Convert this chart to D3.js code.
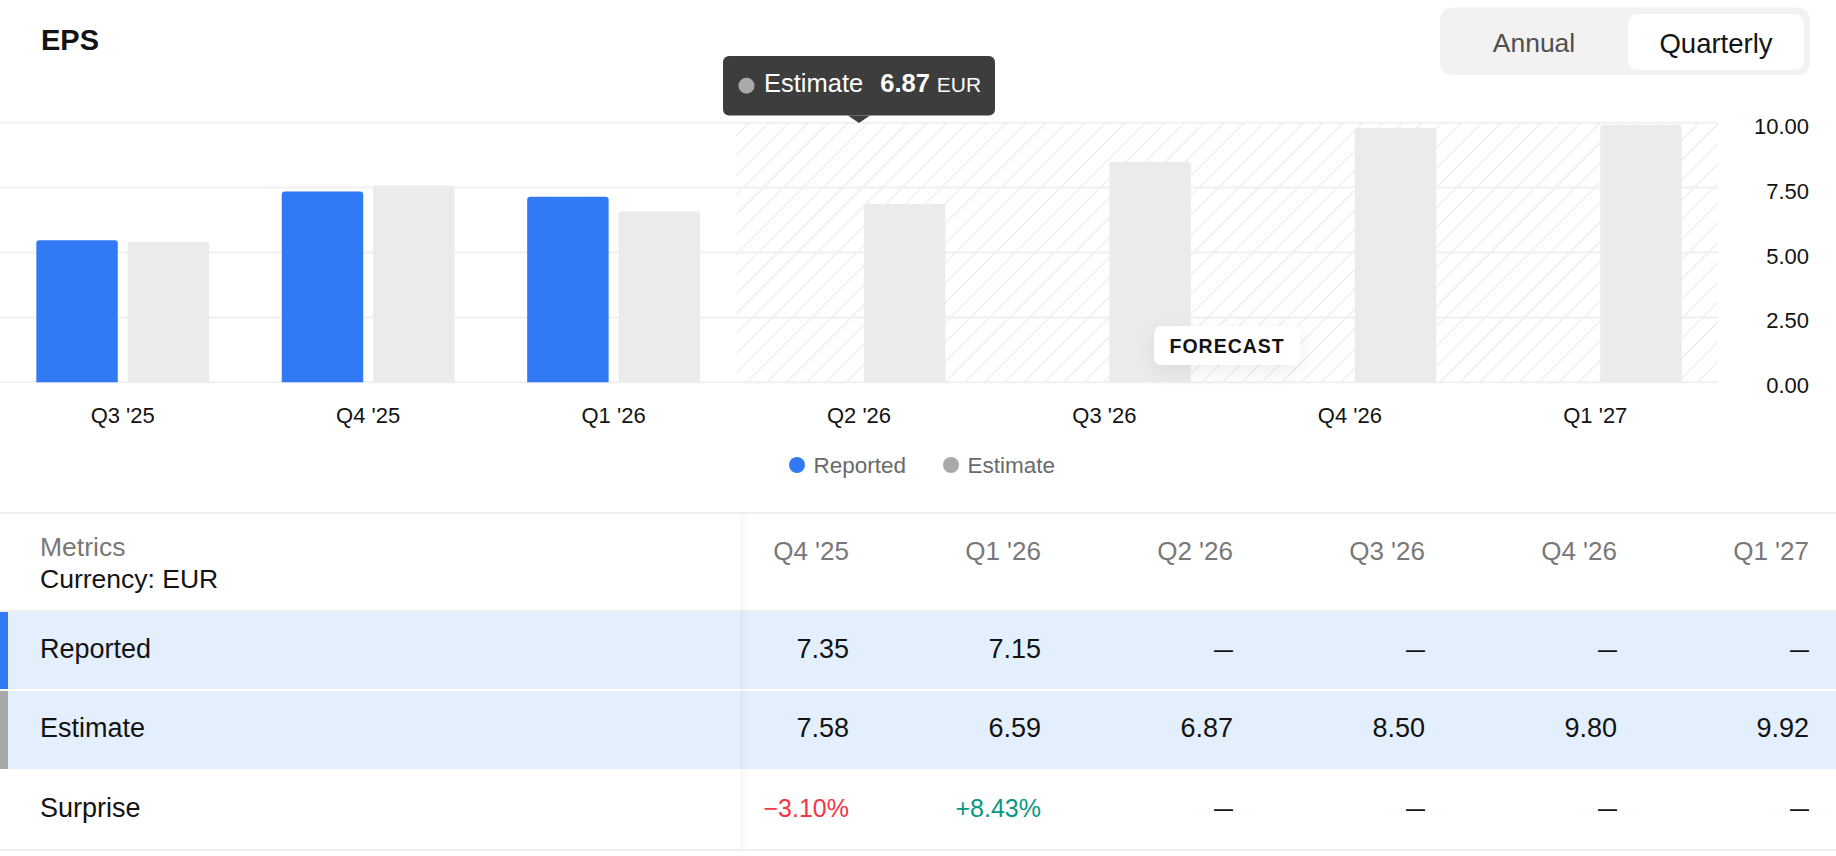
<!DOCTYPE html>
<html>
<head>
<meta charset="utf-8">
<script src="https://cdn.jsdelivr.net/npm/d3@7/dist/d3.min.js"></script>
<style>
html,body{margin:0;padding:0;background:#fff;}
svg{display:block;font-family:"Liberation Sans",Arial,sans-serif;}
</style>
</head>
<body>
<div id="chart"></div>
<script>
// data
var quarters=["Q3 '25","Q4 '25","Q1 '26","Q2 '26","Q3 '26","Q4 '26","Q1 '27"];
var reported=[5.47,7.35,7.15,null,null,null,null];
var estimate=[5.40,7.58,6.59,6.87,8.50,9.80,9.92];
var firstForecast="Q2 '26";
var yTicks=[0,2.5,5,7.5,10];
var tableQuarters=["Q4 '25","Q1 '26","Q2 '26","Q3 '26","Q4 '26","Q1 '27"];
var tableReported=[7.35,7.15,null,null,null,null];
var tableEstimate=[7.58,6.59,6.87,8.50,9.80,9.92];
var tableSurprise=[-3.10,8.43,null,null,null,null];
var seriesNames=["Reported","Estimate"];

var W=1836,H=856;
var BLUE="#3179f5",GREY_BAR="#ebebeb",GRID="#f0f0f0",TXT="#131313";

var svg=d3.select("#chart").append("svg").attr("width",W).attr("height",H);
var defs=svg.append("defs");

// hatch pattern for the forecast zone
var pat=defs.append("pattern").attr("id","hatch")
	.attr("patternUnits","userSpaceOnUse").attr("width",14).attr("height",14)
	.attr("patternTransform","rotate(45)");
pat.append("line").attr("x1",0).attr("y1",0).attr("x2",0).attr("y2",14)
	.attr("stroke","#e8e8e8").attr("stroke-width",2);

var sh=defs.append("filter").attr("id","shadow").attr("x","-40%").attr("y","-60%").attr("width","180%").attr("height","260%");
sh.append("feDropShadow").attr("dx",0).attr("dy",6).attr("stdDeviation",9)
	.attr("flood-color","#000").attr("flood-opacity",0.07);

var grad=defs.append("linearGradient").attr("id","stickyShadow");
grad.append("stop").attr("offset","0").attr("stop-color","#000").attr("stop-opacity",0.035);
grad.append("stop").attr("offset","1").attr("stop-color","#000").attr("stop-opacity",0);

//***************************
//SCALES
//***************************
var x0=d3.scaleBand().domain(quarters).range([0,1718]).paddingInner(0.296).paddingOuter(0.148);
var x1=d3.scaleBand().domain(seriesNames).range([0,x0.bandwidth()]).paddingInner(0.108);
var y=d3.scaleLinear().domain([0,10]).range([382.3,122.7]);
var step=x0.step();
var fx0=x0(firstForecast)-step*x0.paddingInner()/2;
var fx1=x0.range()[1];

//***************************
//TITLE + TOGGLE
//***************************
svg.append("text").attr("x",41).attr("y",50).attr("font-size",29).attr("font-weight","bold")
	.attr("fill",TXT).text("EPS");

var tg=svg.append("g");
tg.append("rect").attr("x",1440).attr("y",7.5).attr("width",370).attr("height",67.5).attr("rx",12).attr("fill","#f2f2f2");
tg.append("rect").attr("x",1628).attr("y",14).attr("width",176).attr("height",56).attr("rx",9).attr("fill","#fff");
tg.append("text").attr("x",1534).attr("y",43).attr("dy","0.35em").attr("text-anchor","middle")
	.attr("font-size",26.5).attr("fill","#4f4f4f").text("Annual");
tg.append("text").attr("x",1716).attr("y",43).attr("dy","0.35em").attr("text-anchor","middle")
	.attr("font-size",27.5).attr("fill",TXT).text("Quarterly");

//***************************
//GRID + FORECAST ZONE
//***************************
svg.append("rect").attr("x",fx0).attr("y",y(10)).attr("width",fx1-fx0).attr("height",y(0)-y(10))
	.attr("fill","url(#hatch)");

svg.append("g").selectAll("line").data(yTicks).enter().append("line")
	.attr("x1",0).attr("x2",fx1).attr("y1",function(d){return y(d);}).attr("y2",function(d){return y(d);})
	.attr("stroke",GRID).attr("stroke-width",2);

var yAxis=d3.axisRight(y).tickValues(yTicks).tickFormat(d3.format(".2f")).tickSize(0).tickPadding(0);
var gy=svg.append("g").attr("transform","translate(1809,3.5)").call(yAxis);
gy.select(".domain").remove();
gy.selectAll("text").attr("text-anchor","end").attr("font-size",22).attr("fill",TXT)
	.attr("font-family","Liberation Sans, Arial, sans-serif");

//***************************
//BARS
//***************************
function topRounded(x,yy,w,h,r){
	return "M"+x+","+(yy+h)+"V"+(yy+r)+"Q"+x+","+yy+" "+(x+r)+","+yy+
		"H"+(x+w-r)+"Q"+(x+w)+","+yy+" "+(x+w)+","+(yy+r)+"V"+(yy+h)+"Z";
}
var rows=quarters.map(function(q,i){return {q:q,rep:reported[i],est:estimate[i]};});
var gb=svg.append("g");
gb.selectAll(".rep").data(rows.filter(function(d){return d.rep!=null;})).enter().append("path")
	.attr("class","rep").attr("fill",BLUE)
	.attr("d",function(d){return topRounded(x0(d.q)+x1("Reported"),y(d.rep),x1.bandwidth(),y(0)-y(d.rep),3);});
gb.selectAll(".est").data(rows.filter(function(d){return d.est!=null;})).enter().append("path")
	.attr("class","est").attr("fill",GREY_BAR)
	.attr("d",function(d){return topRounded(x0(d.q)+x1("Estimate"),y(d.est),x1.bandwidth(),y(0)-y(d.est),3);});

// x axis labels
var xAxis=d3.axisBottom(x0).tickSize(0).tickPadding(0);
var gx=svg.append("g").attr("transform","translate(0,415.5)").call(xAxis);
gx.select(".domain").remove();
gx.selectAll("text").attr("dy","0.35em").attr("font-size",22).attr("fill",TXT)
	.attr("font-family","Liberation Sans, Arial, sans-serif");

// forecast badge
var fcx=(fx0+fx1)/2;
var fb=svg.append("g");
fb.append("rect").attr("x",fcx-73).attr("y",326).attr("width",146).attr("height",39).attr("rx",7)
	.attr("fill","#fff").attr("filter","url(#shadow)");
fb.append("text").attr("x",fcx).attr("y",346).attr("dy","0.35em").attr("text-anchor","middle")
	.attr("font-size",19.5).attr("font-weight","bold").attr("letter-spacing",1).attr("fill",TXT).text("FORECAST");

// tooltip
var tipX=x0(firstForecast)+x0.bandwidth()/2;
var tipI=quarters.indexOf(firstForecast);
var tt=svg.append("g");
tt.append("rect").attr("x",tipX-136).attr("y",56).attr("width",272).attr("height",59.5).attr("rx",6).attr("fill","#3d3d3d");
tt.append("path").attr("d","M"+(tipX-11)+",115.5L"+tipX+",123L"+(tipX+11)+",115.5Z").attr("fill","#3d3d3d");
tt.append("circle").attr("cx",tipX-112.5).attr("cy",85.7).attr("r",8).attr("fill","#a9a9a9");
var ttt=tt.append("text").attr("x",tipX-95).attr("y",86).attr("dy","0.35em").attr("fill","#fff");
ttt.append("tspan").attr("font-size",25.5).text("Estimate");
ttt.append("tspan").attr("dx",17).attr("font-size",25.5).attr("font-weight","bold").text(d3.format(".2f")(estimate[tipI]));
ttt.append("tspan").attr("dx",7).attr("font-size",21).text("EUR");

// legend
var leg=svg.append("g");
var legItems=[{n:"Reported",c:BLUE,x:797},{n:"Estimate",c:"#a9a9a9",x:951}];
leg.selectAll("circle").data(legItems).enter().append("circle")
	.attr("cx",function(d){return d.x;}).attr("cy",465).attr("r",8).attr("fill",function(d){return d.c;});
leg.selectAll("text").data(legItems).enter().append("text")
	.attr("x",function(d){return d.x+16.5;}).attr("y",465).attr("dy","0.35em")
	.attr("font-size",22.5).attr("fill","#6a6a6a").text(function(d){return d.n;});

//***************************
//TABLE
//***************************
var tx=d3.scaleBand().domain(tableQuarters).range([657,1809]);
var tb=svg.append("g");
tb.append("rect").attr("x",0).attr("y",512).attr("width",W).attr("height",2).attr("fill",GRID);
tb.append("rect").attr("x",0).attr("y",610).attr("width",W).attr("height",2).attr("fill",GRID);
tb.append("rect").attr("x",0).attr("y",612).attr("width",W).attr("height",77).attr("fill","#e3effd");
tb.append("rect").attr("x",0).attr("y",691).attr("width",W).attr("height",78).attr("fill","#e3effd");
tb.append("rect").attr("x",0).attr("y",612).attr("width",8).attr("height",77).attr("fill",BLUE);
tb.append("rect").attr("x",0).attr("y",691).attr("width",8).attr("height",78).attr("fill","#a8a8a8");
tb.append("rect").attr("x",0).attr("y",849).attr("width",W).attr("height",2).attr("fill",GRID);
tb.append("rect").attr("x",740).attr("y",514).attr("width",9).attr("height",335).attr("fill","url(#stickyShadow)");

tb.append("text").attr("x",40).attr("y",547).attr("dy","0.35em").attr("font-size",26.5).attr("fill","#787878").text("Metrics");
tb.append("text").attr("x",40).attr("y",579).attr("dy","0.35em").attr("font-size",26.5).attr("fill",TXT).text("Currency: EUR");

tb.selectAll(".hq").data(tableQuarters).enter().append("text").attr("class","hq")
	.attr("x",function(d){return tx(d)+tx.bandwidth();}).attr("y",551).attr("dy","0.35em")
	.attr("text-anchor","end").attr("font-size",26).attr("fill","#787878").text(function(d){return d;});

var fmt=d3.format(".2f");
var tableRows=[
	{name:"Reported",yc:649,vals:tableReported,txt:function(v){return fmt(v);},col:function(){return TXT;}},
	{name:"Estimate",yc:728,vals:tableEstimate,txt:function(v){return fmt(v);},col:function(){return TXT;}},
	{name:"Surprise",yc:808,vals:tableSurprise,
		txt:function(v){return (v<0?"\u2212":"+")+fmt(Math.abs(v))+"%";},
		col:function(v){return v<0?"#f23645":"#089981";}}
];
tableRows.forEach(function(r){
	tb.append("text").attr("x",40).attr("y",r.yc).attr("dy","0.35em").attr("font-size",27).attr("fill",TXT).text(r.name);
	tb.selectAll(".v"+r.name).data(tableQuarters).enter().append("text")
		.attr("x",function(d){return tx(d)+tx.bandwidth();}).attr("y",r.yc).attr("dy","0.35em")
		.attr("text-anchor","end")
		.attr("font-size",function(d,i){return r.vals[i]==null?19:(r.name=="Surprise"?25:27);})
		.attr("font-weight",function(d,i){return r.vals[i]==null?"bold":"normal";})
		.attr("fill",function(d,i){var v=r.vals[i];return v==null?TXT:r.col(v);})
		.text(function(d,i){var v=r.vals[i];return v==null?"\u2014":r.txt(v);});
});
</script>
</body>
</html>
